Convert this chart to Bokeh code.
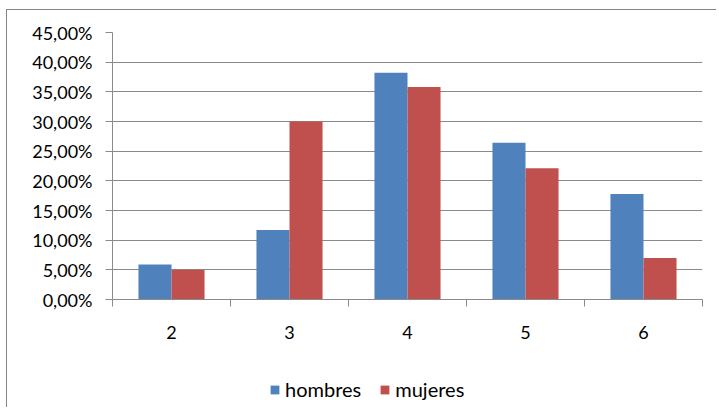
from bokeh.plotting import figure
from bokeh.layouts import column
from bokeh.models import (ColumnDataSource, FixedTicker, Legend, LegendItem,
                          Range1d)
from bokeh.embed import file_html
from bokeh.resources import INLINE

categories = ["2", "3", "4", "5", "6"]
hombres = [5.9, 11.7, 38.2, 26.4, 17.8]
mujeres = [5.0, 30.0, 35.8, 22.1, 7.0]
series_names = ["hombres", "mujeres"]
y_ticks = [0, 5, 10, 15, 20, 25, 30, 35, 40, 45]
y_tick_labels = ["0,00%", "5,00%", "10,00%", "15,00%", "20,00%", "25,00%",
                 "30,00%", "35,00%", "40,00%", "45,00%"]

FONT = "Lato"
GRID = "#8a8a8a"
FRAME = "#858585"
BLUE = "#4F81BD"
RED = "#C0504D"

pos = list(range(1, len(categories) + 1))
bar_w = 0.28
src = ColumnDataSource(dict(
    xb=[p - bar_w / 2 for p in pos],
    xr=[p + bar_w / 2 for p in pos],
    h=hombres, m=mujeres,
))

p = figure(width=710, height=345, output_backend="svg", toolbar_location=None,
           x_range=Range1d(0.5, len(categories) + 0.5),
           y_range=Range1d(0, 45),
           min_border_left=105, min_border_right=15, min_border_top=22,
           min_border_bottom=56)

p.outline_line_color = None
p.background_fill_color = "white"
p.border_fill_color = "white"

rb = p.vbar(x="xb", top="h", width=bar_w, source=src, fill_color=BLUE, line_color=None)
rr = p.vbar(x="xr", top="m", width=bar_w, source=src, fill_color=RED, line_color=None)

# y axis
p.yaxis.ticker = FixedTicker(ticks=y_ticks)
p.yaxis.major_label_overrides = {t: l for t, l in zip(y_ticks, y_tick_labels)}
p.yaxis.minor_tick_line_color = None
p.yaxis.major_tick_out = 7
p.yaxis.major_tick_in = 0
p.yaxis.major_tick_line_color = GRID
p.yaxis.axis_line_color = GRID
p.yaxis.major_label_standoff = 13
p.yaxis.major_label_text_font = FONT
p.yaxis.major_label_text_font_size = "18px"
p.yaxis.major_label_text_color = "black"

# x axis: labels at centres, ticks at boundaries
p.xaxis.ticker = FixedTicker(ticks=pos, minor_ticks=[x + 0.5 for x in range(0, len(categories) + 1)])
p.xaxis.major_label_overrides = {x: c for x, c in zip(pos, categories)}
p.xaxis.major_tick_out = 0
p.xaxis.major_tick_in = 0
p.xaxis.minor_tick_out = 7
p.xaxis.minor_tick_in = 0
p.xaxis.minor_tick_line_color = GRID
p.xaxis.axis_line_color = GRID
p.xaxis.major_label_standoff = 19
p.xaxis.major_label_text_font = FONT
p.xaxis.major_label_text_font_size = "18px"
p.xaxis.major_label_text_color = "black"

p.xgrid.grid_line_color = None
p.ygrid.grid_line_color = GRID
p.ygrid.grid_line_width = 1

# legend in a second, axis-less figure below (its bars lie outside its ranges)
p2 = figure(width=710, height=53, output_backend="svg", toolbar_location=None,
            x_range=Range1d(100, 101), y_range=Range1d(100, 101),
            min_border=0, x_axis_location=None, y_axis_location=None)
p2.outline_line_color = None
p2.xgrid.grid_line_color = None
p2.ygrid.grid_line_color = None
lb = p2.vbar(x="xb", top="h", width=bar_w, source=src, fill_color=BLUE, line_color=None)
lr = p2.vbar(x="xr", top="m", width=bar_w, source=src, fill_color=RED, line_color=None)
legend = Legend(items=[LegendItem(label=series_names[0], renderers=[lb]),
                       LegendItem(label=series_names[1], renderers=[lr])],
                orientation="horizontal", location=(157, 7),
                label_text_font=FONT, label_text_font_size="20px",
                label_text_color="black",
                glyph_width=11, glyph_height=11, label_standoff=5, spacing=18,
                border_line_color=None, background_fill_alpha=0,
                margin=0, padding=0)
p2.add_layout(legend, "center")

layout = column(p, p2, spacing=0)
layout.styles = {"margin-left": "7px", "margin-top": "10px",
                 "box-shadow": "-1px -1px 0 0 " + FRAME}

open("out.html", "w").write(file_html(layout, INLINE))
